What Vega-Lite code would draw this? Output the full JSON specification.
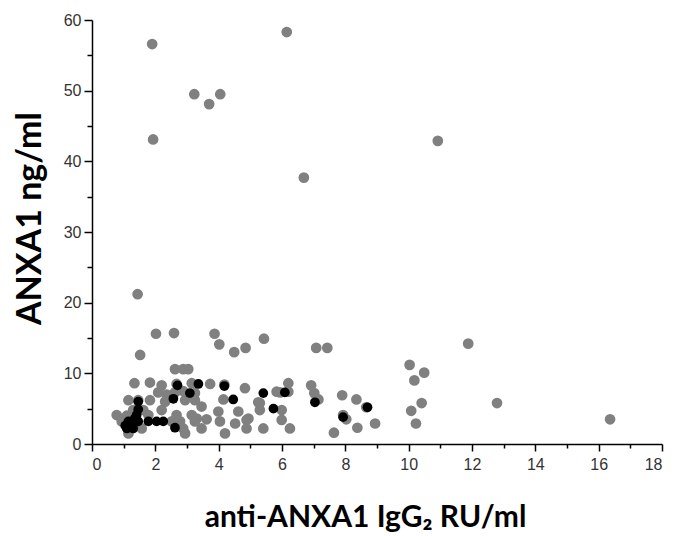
{
  "$schema": "https://vega.github.io/schema/vega-lite/v6.json",
  "autosize": "none",
  "width": 570,
  "height": 424,
  "padding": {"left": 92, "top": 20, "right": 14, "bottom": 92},
  "background": "white",
  "config": {"view": {"stroke": null}},
  "data": {"values": [
    {"x":1.90,"y":56.6,"g":"a"},{"x":6.15,"y":58.3,"g":"a"},{"x":3.23,"y":49.5,"g":"a"},{"x":3.70,"y":48.1,"g":"a"},{"x":4.05,"y":49.5,"g":"a"},
    {"x":1.93,"y":43.1,"g":"a"},{"x":10.92,"y":42.9,"g":"a"},{"x":6.69,"y":37.7,"g":"a"},{"x":1.44,"y":21.2,"g":"a"},
    {"x":2.02,"y":15.6,"g":"a"},{"x":2.59,"y":15.7,"g":"a"},{"x":1.52,"y":12.6,"g":"a"},{"x":3.87,"y":15.6,"g":"a"},{"x":4.02,"y":14.1,"g":"a"},
    {"x":4.49,"y":13.0,"g":"a"},{"x":4.85,"y":13.6,"g":"a"},{"x":5.43,"y":14.9,"g":"a"},
    {"x":7.08,"y":13.6,"g":"a"},{"x":7.43,"y":13.6,"g":"a"},{"x":11.88,"y":14.2,"g":"a"},{"x":10.03,"y":11.2,"g":"a"},{"x":10.49,"y":10.1,"g":"a"},
    {"x":10.18,"y":9.0,"g":"a"},{"x":6.92,"y":8.3,"g":"a"},{"x":7.02,"y":7.2,"g":"a"},{"x":7.15,"y":6.3,"g":"a"},{"x":7.90,"y":6.9,"g":"a"},
    {"x":8.35,"y":6.3,"g":"a"},{"x":8.66,"y":5.2,"g":"a"},{"x":7.93,"y":4.1,"g":"a"},{"x":8.03,"y":3.5,"g":"a"},{"x":8.38,"y":2.3,"g":"a"},
    {"x":8.94,"y":2.9,"g":"a"},{"x":7.64,"y":1.6,"g":"a"},{"x":10.41,"y":5.8,"g":"a"},{"x":10.08,"y":4.7,"g":"a"},{"x":10.23,"y":2.9,"g":"a"},
    {"x":12.79,"y":5.8,"g":"a"},{"x":16.36,"y":3.5,"g":"a"},
    {"x":2.62,"y":10.6,"g":"a"},{"x":2.88,"y":10.6,"g":"a"},{"x":3.04,"y":10.6,"g":"a"},
    {"x":1.34,"y":8.6,"g":"a"},{"x":1.83,"y":8.7,"g":"a"},{"x":2.20,"y":8.3,"g":"a"},{"x":2.67,"y":8.5,"g":"a"},{"x":3.15,"y":8.6,"g":"a"},
    {"x":3.73,"y":8.5,"g":"a"},{"x":4.18,"y":8.4,"g":"a"},{"x":4.83,"y":7.9,"g":"a"},{"x":5.94,"y":7.3,"g":"a"},{"x":6.20,"y":8.6,"g":"a"},
    {"x":6.20,"y":7.4,"g":"a"},{"x":2.09,"y":7.3,"g":"a"},{"x":2.36,"y":7.0,"g":"a"},{"x":2.62,"y":7.3,"g":"a"},{"x":2.88,"y":7.5,"g":"a"},
    {"x":3.25,"y":7.2,"g":"a"},{"x":5.83,"y":7.4,"g":"a"},
    {"x":1.15,"y":6.2,"g":"a"},{"x":1.46,"y":6.2,"g":"a"},{"x":1.83,"y":6.2,"g":"a"},{"x":2.31,"y":6.0,"g":"a"},{"x":2.94,"y":6.2,"g":"a"},
    {"x":3.25,"y":6.2,"g":"a"},{"x":4.15,"y":6.3,"g":"a"},{"x":5.25,"y":5.9,"g":"a"},{"x":5.30,"y":5.8,"g":"a"},
    {"x":3.46,"y":5.3,"g":"a"},{"x":1.30,"y":4.8,"g":"a"},{"x":1.62,"y":4.8,"g":"a"},{"x":2.20,"y":4.8,"g":"a"},{"x":3.99,"y":4.6,"g":"a"},
    {"x":4.62,"y":4.6,"g":"a"},{"x":5.30,"y":4.8,"g":"a"},{"x":5.99,"y":4.8,"g":"a"},
    {"x":0.78,"y":4.1,"g":"a"},{"x":1.10,"y":4.0,"g":"a"},{"x":1.78,"y":4.1,"g":"a"},{"x":2.67,"y":4.1,"g":"a"},{"x":3.15,"y":4.1,"g":"a"},
    {"x":4.94,"y":3.6,"g":"a"},{"x":3.31,"y":3.6,"g":"a"},{"x":3.62,"y":3.5,"g":"a"},
    {"x":0.94,"y":3.2,"g":"a"},{"x":2.52,"y":3.2,"g":"a"},{"x":2.78,"y":3.2,"g":"a"},{"x":3.25,"y":3.2,"g":"a"},{"x":4.04,"y":3.2,"g":"a"},
    {"x":4.52,"y":2.9,"g":"a"},{"x":5.99,"y":3.4,"g":"a"},{"x":4.88,"y":3.4,"g":"a"},
    {"x":1.57,"y":2.2,"g":"a"},{"x":2.88,"y":2.2,"g":"a"},{"x":3.46,"y":2.2,"g":"a"},{"x":4.88,"y":2.2,"g":"a"},{"x":5.41,"y":2.2,"g":"a"},
    {"x":6.25,"y":2.2,"g":"a"},{"x":1.15,"y":1.5,"g":"a"},{"x":2.94,"y":1.5,"g":"a"},{"x":4.20,"y":1.5,"g":"a"},
    {"x":1.46,"y":6.0,"g":"b"},{"x":1.46,"y":4.9,"g":"b"},{"x":1.41,"y":4.1,"g":"b"},{"x":1.15,"y":3.2,"g":"b"},{"x":1.46,"y":3.2,"g":"b"},
    {"x":1.78,"y":3.2,"g":"b"},{"x":2.04,"y":3.2,"g":"b"},{"x":2.25,"y":3.2,"g":"b"},{"x":1.10,"y":2.2,"g":"b"},{"x":1.30,"y":2.2,"g":"b"},
    {"x":1.05,"y":2.6,"g":"b"},{"x":1.25,"y":2.8,"g":"b"},{"x":1.35,"y":3.6,"g":"b"},{"x":2.62,"y":2.3,"g":"b"},{"x":2.57,"y":6.4,"g":"b"},
    {"x":2.70,"y":8.3,"g":"b"},{"x":3.09,"y":7.2,"g":"b"},{"x":3.36,"y":8.5,"g":"b"},{"x":4.18,"y":8.2,"g":"b"},{"x":4.46,"y":6.3,"g":"b"},
    {"x":5.41,"y":7.2,"g":"b"},{"x":6.09,"y":7.3,"g":"b"},{"x":5.73,"y":5.0,"g":"b"},{"x":7.04,"y":5.9,"g":"b"},{"x":8.70,"y":5.2,"g":"b"},
    {"x":7.93,"y":3.8,"g":"b"}
  ]},
  "encoding": {
    "x": {
      "field": "x", "type": "quantitative",
      "scale": {"domain": [0, 18], "nice": false, "zero": false},
      "axis": {
        "title": "anti-ANXA1 IgG₂ RU/ml",
        "values": [0,1,2,3,4,5,6,7,8,9,10,11,12,13,14,15,16,17,18],
        "labelExpr": "datum.value % 2 === 0 ? datum.label : ''",
        "grid": false,
        "domainColor": "black", "domainWidth": 1.5,
        "tickColor": "black", "tickWidth": 1.5,
        "tickSize": {"condition": {"test": "datum.value % 2 === 0", "value": 7}, "value": 4},
        "labelFont": "Liberation Sans", "labelFontSize": 16, "labelColor": "#333333", "labelPadding": 5,
        "titleFont": "Lato", "titleFontSize": 30, "titleFontWeight": "bold", "titleColor": "black", "titlePadding": 30,
        "titleX": 273
      }
    },
    "y": {
      "field": "y", "type": "quantitative",
      "scale": {"domain": [0, 60], "nice": false},
      "axis": {
        "title": "ANXA1 ng/ml",
        "values": [0,5,10,15,20,25,30,35,40,45,50,55,60],
        "labelExpr": "datum.value % 10 === 0 ? datum.label : ''",
        "grid": false,
        "domainColor": "black", "domainWidth": 1.5,
        "tickColor": "black", "tickWidth": 1.5,
        "tickSize": {"condition": {"test": "datum.value % 10 === 0", "value": 8}, "value": 5},
        "labelFont": "Liberation Sans", "labelFontSize": 16, "labelColor": "#333333", "labelPadding": 3,
        "titleFont": "Lato", "titleFontSize": 34, "titleFontWeight": "bold", "titleColor": "black", "titlePadding": 16,
        "titleY": 198
      }
    }
  },
  "layer": [
    {
      "transform": [{"filter": "datum.g === 'a'"}],
      "mark": {"type": "circle", "size": 115, "color": "#808080", "opacity": 1}
    },
    {
      "transform": [{"filter": "datum.g === 'b'"}],
      "mark": {"type": "circle", "size": 95, "color": "#000000", "opacity": 1}
    }
  ]
}
